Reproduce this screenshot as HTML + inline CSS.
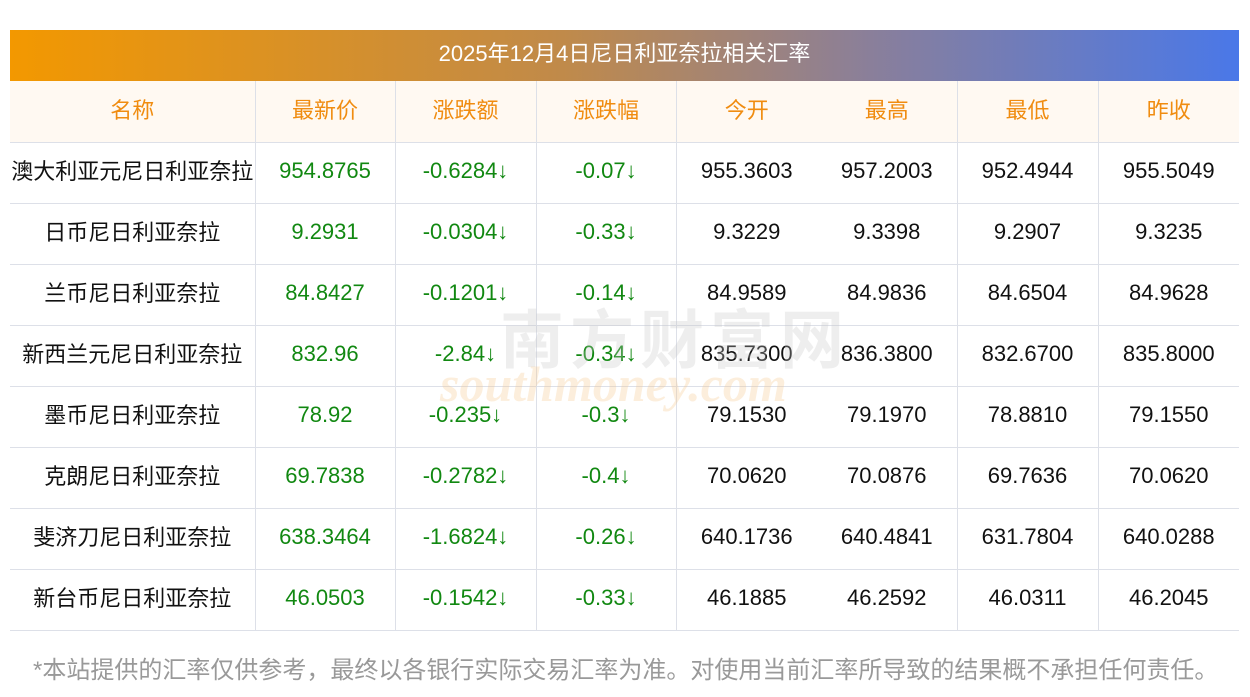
<!DOCTYPE html>
<html><head><meta charset="utf-8"><style>
body{margin:0;width:1250px;height:697px;background:#fff;font-family:"Liberation Sans","Noto Sans CJK SC",sans-serif;position:relative;overflow:hidden}
.title{position:absolute;left:10px;top:30px;width:1229px;height:51px;background:linear-gradient(90deg,#f39800,#c08a4a 45%,#8a7f9a 70%,#4a78e8);color:#fff;font-size:22px;line-height:48px;text-align:center}
table{position:absolute;left:10px;top:81px;border-collapse:collapse;table-layout:fixed;width:1229px}
tr{height:61px}
td,th{height:60px;border-bottom:1px solid #dde0e8;text-align:center;font-size:22px;padding:0;font-weight:normal;white-space:nowrap;line-height:20px;overflow:hidden}
th{color:#f08c10;background:#fff9f2}
td{color:#111}
td span{position:relative;top:-2px}
th span{position:relative;top:0}
td.n span{top:-1px}
.b{border-right:1px solid #dde0e8}
.g{color:#118811}
.foot{position:absolute;left:33px;top:650px;font-size:24px;color:#999;white-space:nowrap}
.wm{position:absolute;color:rgba(200,200,200,0.3);font-weight:bold}
</style></head><body>
<div class="title">2025年12月4日尼日利亚奈拉相关汇率</div>
<table>
<colgroup><col style="width:245px"><col style="width:140px"><col style="width:141px"><col style="width:140px"><col style="width:141px"><col style="width:140px"><col style="width:141px"><col style="width:141px"></colgroup>
<tr><th class="b"><span>名称</span></th><th class="b"><span>最新价</span></th><th class="b"><span>涨跌额</span></th><th class="b"><span>涨跌幅</span></th><th><span>今开</span></th><th class="b"><span>最高</span></th><th class="b"><span>最低</span></th><th><span>昨收</span></th></tr>
<tr><td class="b n"><span>澳大利亚元尼日利亚奈拉</span></td><td class="b g"><span>954.8765</span></td><td class="b g"><span>-0.6284↓</span></td><td class="b g"><span>-0.07↓</span></td><td><span>955.3603</span></td><td class="b"><span>957.2003</span></td><td class="b"><span>952.4944</span></td><td><span>955.5049</span></td></tr>
<tr><td class="b n"><span>日币尼日利亚奈拉</span></td><td class="b g"><span>9.2931</span></td><td class="b g"><span>-0.0304↓</span></td><td class="b g"><span>-0.33↓</span></td><td><span>9.3229</span></td><td class="b"><span>9.3398</span></td><td class="b"><span>9.2907</span></td><td><span>9.3235</span></td></tr>
<tr><td class="b n"><span>兰币尼日利亚奈拉</span></td><td class="b g"><span>84.8427</span></td><td class="b g"><span>-0.1201↓</span></td><td class="b g"><span>-0.14↓</span></td><td><span>84.9589</span></td><td class="b"><span>84.9836</span></td><td class="b"><span>84.6504</span></td><td><span>84.9628</span></td></tr>
<tr><td class="b n"><span>新西兰元尼日利亚奈拉</span></td><td class="b g"><span>832.96</span></td><td class="b g"><span>-2.84↓</span></td><td class="b g"><span>-0.34↓</span></td><td><span>835.7300</span></td><td class="b"><span>836.3800</span></td><td class="b"><span>832.6700</span></td><td><span>835.8000</span></td></tr>
<tr><td class="b n"><span>墨币尼日利亚奈拉</span></td><td class="b g"><span>78.92</span></td><td class="b g"><span>-0.235↓</span></td><td class="b g"><span>-0.3↓</span></td><td><span>79.1530</span></td><td class="b"><span>79.1970</span></td><td class="b"><span>78.8810</span></td><td><span>79.1550</span></td></tr>
<tr><td class="b n"><span>克朗尼日利亚奈拉</span></td><td class="b g"><span>69.7838</span></td><td class="b g"><span>-0.2782↓</span></td><td class="b g"><span>-0.4↓</span></td><td><span>70.0620</span></td><td class="b"><span>70.0876</span></td><td class="b"><span>69.7636</span></td><td><span>70.0620</span></td></tr>
<tr><td class="b n"><span>斐济刀尼日利亚奈拉</span></td><td class="b g"><span>638.3464</span></td><td class="b g"><span>-1.6824↓</span></td><td class="b g"><span>-0.26↓</span></td><td><span>640.1736</span></td><td class="b"><span>640.4841</span></td><td class="b"><span>631.7804</span></td><td><span>640.0288</span></td></tr>
<tr><td class="b n"><span>新台币尼日利亚奈拉</span></td><td class="b g"><span>46.0503</span></td><td class="b g"><span>-0.1542↓</span></td><td class="b g"><span>-0.33↓</span></td><td><span>46.1885</span></td><td class="b"><span>46.2592</span></td><td class="b"><span>46.0311</span></td><td><span>46.2045</span></td></tr>
</table>
<div class="wm" style="left:500px;top:290px;font-size:64px;letter-spacing:6px">南方财富网</div>
<div class="wm" style="left:440px;top:355px;font-size:50px;font-style:italic;font-family:'Liberation Serif',serif;color:rgba(245,200,140,0.3)">southmoney.com</div>
<div class="foot">*本站提供的汇率仅供参考，最终以各银行实际交易汇率为准。对使用当前汇率所导致的结果概不承担任何责任。</div>
</body></html>
